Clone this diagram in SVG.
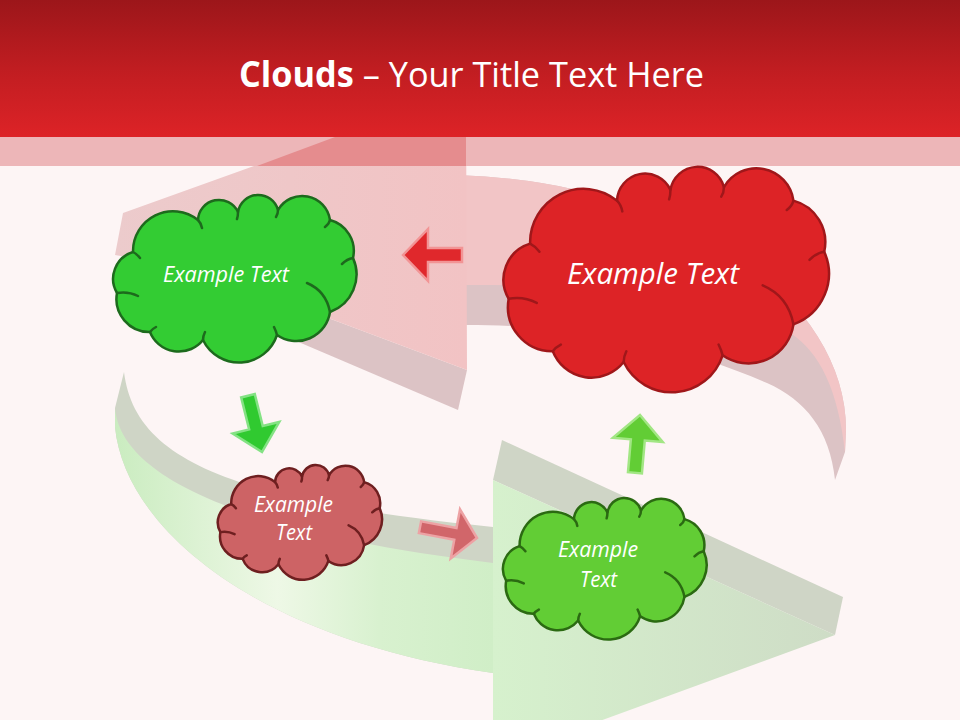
<svg xmlns="http://www.w3.org/2000/svg" width="960" height="720" viewBox="0 0 960 720">
<defs>
  <linearGradient id="hdr" x1="0" y1="0" x2="0" y2="1">
    <stop offset="0" stop-color="#9c161a"/>
    <stop offset="0.5" stop-color="#c01d21"/>
    <stop offset="1" stop-color="#dd2327"/>
  </linearGradient>
  <linearGradient id="redHead" gradientUnits="userSpaceOnUse" x1="115" y1="0" x2="466" y2="0">
    <stop offset="0" stop-color="#eccbcc"/>
    <stop offset="1" stop-color="#f2c3c4"/>
  </linearGradient>
  <linearGradient id="greenBody" gradientUnits="userSpaceOnUse" x1="115" y1="0" x2="493" y2="0">
    <stop offset="0" stop-color="#caecc0"/>
    <stop offset="0.43" stop-color="#eef8e6"/>
    <stop offset="0.7" stop-color="#d8f1cf"/>
    <stop offset="1" stop-color="#d0eec7"/>
  </linearGradient>
  <linearGradient id="greenHead" gradientUnits="userSpaceOnUse" x1="493" y1="0" x2="840" y2="0">
    <stop offset="0" stop-color="#d6f1cd"/>
    <stop offset="1" stop-color="#cedcc6"/>
  </linearGradient>
  <path id="cloud" vector-effect="non-scaling-stroke" d="M5,98 A28,28 0 0 1 21,57 A40,40 0 0 1 86,25 A21,21 0 0 1 126,17 A20.5,20.5 0 0 1 166,15 A28,28 0 0 1 218,25 A32,32 0 0 1 241,63 A40,40 0 0 1 218,117 A34,34 0 0 1 165,140 A40,40 0 0 1 91,145 A31,31 0 0 1 38,137 A33,33 0 0 1 5,98 Z"/>
  <path id="crease" vector-effect="non-scaling-stroke" fill="none" d="M5,98 Q16,96 26,101 M21,57 q4,2 7,6 M86,25 q3,3 4,8 M126,17 q0,4 -1,7 M166,15 q0,4 -2,7 M218,25 q-1,4 -5,7 M241,63 q-6,1 -11,6 M195,88 Q214,96 218,117 M165,140 q-1,-4 -3,-8 M91,145 q0,-4 2,-8 M38,137 q2,-3 6,-5"/>
</defs>
<style>
  .cl { stroke-width: 2.5; stroke-linejoin: round; }
  .cr { stroke-width: 2.5; stroke-linecap: round; fill: none; }
  .lbl { font-family: "Open Sans", "Noto Sans", "DejaVu Sans", sans-serif; font-style: italic; fill: #ffffff; text-anchor: middle; }
  .title { font-family: "Open Sans", "Noto Sans", "DejaVu Sans", sans-serif; fill: #ffffff; text-anchor: middle; }
  .arr { stroke-width: 2.5; stroke-linejoin: miter; }
</style>

<rect id="background" x="0" y="0" width="960" height="720" fill="#fdf5f5"/>

<g id="red-ring">
  <path d="M466,175.5 A406,255 0 0 1 846,430 L845,452 L835,480 C830,430 805,400 767,383 C690,350 600,325 466,325 Z" fill="#dcc3c5"/>
  <path d="M466,175.5 A406,255 0 0 1 846,430 L845,452 C838,390 820,352 790,333 C730,300 600,284 466,285 Z" fill="#f2c5c6"/>
  <polygon points="200,270 467,370 458,410 200,300" fill="#dcc3c5"/>
  <polygon points="466,90 123,213 115,255 200,270 467,370" fill="url(#redHead)"/>
</g>

<g id="green-ring">
  <path d="M124,372 C135,460 230,500 493,527 L493,673 C260,640 125,530 115,427 L115,408 Z" fill="#cfd5c6"/>
  <path d="M115,408 C120,470 220,530 493,563 L493,673 C260,640 125,530 115,427 Z" fill="url(#greenBody)"/>
  <polygon points="502,440 843,597 835,635 493,480" fill="#cfd5c6"/>
  <polygon points="493,480 835,635 493,760" fill="url(#greenHead)"/>
</g>

<g id="header">
  <rect x="0" y="137" width="960" height="29" fill="#edb6b8"/>
  <polygon points="257,166 335,137 466,137 466,166" fill="#e58c8e"/>
  <rect x="0" y="0" width="960" height="137" fill="url(#hdr)"/>
  <text class="title" x="471.5" y="87" font-size="35" textLength="465" lengthAdjust="spacingAndGlyphs"><tspan font-weight="bold">Clouds</tspan> – Your Title Text Here</text>
</g>

<g id="connectors">
  <polygon class="arr" points="403,255 428,229 428,248 462,248 462,262 428,262 428,281" fill="#e0282c" stroke="#f29495"/>
  <polygon class="arr" points="0,0 -24,-25 -7,-25 -7,-58 7,-58 7,-25 24,-25" transform="translate(262,452) rotate(-14)" fill="#30ca30" stroke="#84e284"/>
  <polygon class="arr" points="0,0 -22,-25 -22,-6 -58,-6 -58,6 -22,6 -22,25" transform="translate(477,538) rotate(10.7)" fill="#d1666a" stroke="#eda2a4"/>
  <polygon class="arr" points="0,0 25,25 7,25 7,58 -7,58 -7,25 -25,25" transform="translate(640,415) rotate(5)" fill="#62cd35" stroke="#a2e684"/>
</g>

<g id="node-green-top">
  <use href="#cloud" class="cl" transform="translate(112,195)" fill="#33cc33" stroke="#1d6a1d"/>
  <use href="#crease" class="cr" transform="translate(112,195)" stroke="#1d6a1d"/>
  <text class="lbl" x="226" y="282" font-size="21" textLength="126" lengthAdjust="spacingAndGlyphs">Example Text</text>
</g>

<g id="node-red-big">
  <use href="#cloud" class="cl" transform="translate(502,167) scale(1.337,1.345)" fill="#dd2326" stroke="#a0171a"/>
  <use href="#crease" class="cr" transform="translate(502,167) scale(1.337,1.345)" stroke="#a0171a"/>
  <text class="lbl" x="653" y="284" font-size="29" textLength="172" lengthAdjust="spacingAndGlyphs">Example Text</text>
</g>

<g id="node-red-small">
  <use href="#cloud" class="cl" transform="translate(217,465) scale(0.675,0.685)" fill="#cd6365" stroke="#6e1f20"/>
  <use href="#crease" class="cr" transform="translate(217,465) scale(0.675,0.685)" stroke="#6e1f20"/>
  <text class="lbl" x="293.5" y="512" font-size="21" textLength="79" lengthAdjust="spacingAndGlyphs">Example</text>
  <text class="lbl" x="294" y="540" font-size="21" textLength="36" lengthAdjust="spacingAndGlyphs">Text</text>
</g>

<g id="node-green-bottom">
  <use href="#cloud" class="cl" transform="translate(502,498) scale(0.837,0.845)" fill="#62cd35" stroke="#2b6a12"/>
  <use href="#crease" class="cr" transform="translate(502,498) scale(0.837,0.845)" stroke="#2b6a12"/>
  <text class="lbl" x="598" y="557" font-size="21" textLength="80" lengthAdjust="spacingAndGlyphs">Example</text>
  <text class="lbl" x="598.5" y="587" font-size="21" textLength="37" lengthAdjust="spacingAndGlyphs">Text</text>
</g>
</svg>
